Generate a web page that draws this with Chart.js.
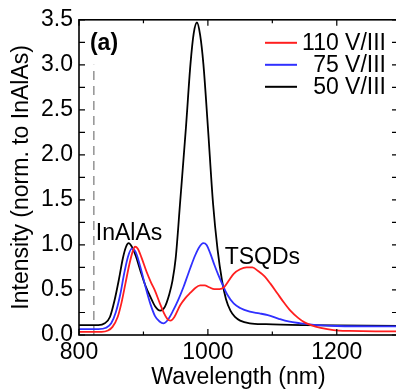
<!DOCTYPE html>
<html>
<head>
<meta charset="utf-8">
<script src="https://cdn.jsdelivr.net/npm/chart.js@4.4.1/dist/chart.umd.min.js"></script>
<style>
  html, body { margin: 0; padding: 0; overflow: hidden; background: #fff; }
  canvas { display: block; }
</style>
</head>
<body>
<canvas id="spec" width="400" height="389"></canvas>
<script>
// series names / colours
const seriesNames = ["110 V/III", "75 V/III", "50 V/III"];
const seriesColors = ["#ff1f1f", "#3030ff", "#000000"];

// 110 V/III (red)
const wl110 = [800, 835, 845, 852, 860, 866, 872, 878, 883, 887, 891, 897, 905, 912, 918, 925, 932, 937, 942, 948, 957, 965, 973, 980, 988, 995, 1002, 1010, 1018, 1025, 1032, 1040, 1050, 1060, 1069, 1078, 1088, 1097, 1108, 1118, 1128, 1140, 1150, 1160, 1175, 1195, 1220, 1260, 1295];
const int110 = [0.035, 0.035, 0.05, 0.09, 0.2, 0.36, 0.57, 0.78, 0.92, 0.98, 0.96, 0.86, 0.7, 0.58, 0.49, 0.36, 0.24, 0.18, 0.16, 0.2, 0.33, 0.41, 0.47, 0.52, 0.55, 0.55, 0.53, 0.51, 0.51, 0.53, 0.6, 0.68, 0.73, 0.75, 0.75, 0.71, 0.65, 0.57, 0.46, 0.36, 0.27, 0.19, 0.14, 0.11, 0.08, 0.055, 0.045, 0.04, 0.04];

// 75 V/III (blue)
const wl75 = [800, 830, 842, 850, 857, 864, 870, 876, 882, 888, 895, 903, 911, 918, 925, 931, 938, 946, 954, 962, 968, 973, 980, 986, 993, 998, 1004, 1010, 1016, 1022, 1030, 1040, 1050, 1065, 1080, 1093, 1110, 1125, 1144, 1170, 1200, 1295];
const int75 = [0.065, 0.065, 0.08, 0.13, 0.25, 0.45, 0.68, 0.87, 0.96, 0.92, 0.76, 0.54, 0.34, 0.21, 0.15, 0.13, 0.17, 0.27, 0.39, 0.53, 0.65, 0.75, 0.88, 0.97, 1.02, 1.0, 0.9, 0.78, 0.67, 0.57, 0.45, 0.35, 0.3, 0.26, 0.24, 0.22, 0.18, 0.15, 0.13, 0.11, 0.1, 0.095];

// 50 V/III (black)
const wl50 = [800, 830, 840, 848, 855, 862, 868, 873, 877, 882, 888, 895, 903, 911, 918, 926, 933, 940, 945, 950, 957, 966, 973, 978, 983, 988, 993, 1000, 1008, 1015, 1022, 1028, 1035, 1042, 1050, 1065, 1090, 1150, 1295];
const int50 = [0.11, 0.11, 0.13, 0.2, 0.38, 0.62, 0.85, 0.98, 1.02, 0.98, 0.88, 0.72, 0.55, 0.42, 0.32, 0.27, 0.31, 0.45, 0.6, 0.85, 1.48, 2.31, 3.01, 3.35, 3.47, 3.33, 3.01, 2.31, 1.46, 0.95, 0.6, 0.4, 0.27, 0.2, 0.16, 0.13, 0.12, 0.11, 0.1];

// dashed reference line
const markWl = [823, 823];
const markInt = [0, 3.0];

// axis ticks
const xTickVals = [800, 1000, 1200];
const xMinorVals = [900, 1100];
const yTickVals = [0, 0.5, 1.0, 1.5, 2.0, 2.5, 3.0, 3.5];
const yMinorVals = [0.25, 0.75, 1.25, 1.75, 2.25, 2.75, 3.25];

// text labels inside the plot (data coords)
const noteText = ["(a)", "InAlAs", "TSQDs"];
const noteWl = [817, 826, 1026];
const noteInt = [3.17, 1.06, 0.79];

const FONT = "'Liberation Sans', Arial, sans-serif";

function toPts(xs, ys) { return xs.map((v, i) => ({ x: v, y: ys[i] })); }

const frame = {
  id: 'frame',
  afterDatasetsDraw(chart) {
    const { ctx, chartArea: a, scales: { x, y } } = chart;
    ctx.save();
    ctx.strokeStyle = '#000';
    ctx.lineWidth = 1.2;
    ctx.beginPath();
    const tickX = (vals, len) => vals.forEach(v => {
      const p = x.getPixelForValue(v);
      ctx.moveTo(p, a.bottom); ctx.lineTo(p, a.bottom - len);
      ctx.moveTo(p, a.top); ctx.lineTo(p, a.top + len);
    });
    const tickY = (vals, len) => vals.forEach(v => {
      const p = y.getPixelForValue(v);
      ctx.moveTo(a.left, p); ctx.lineTo(a.left + len, p);
      ctx.moveTo(a.right, p); ctx.lineTo(a.right - len, p);
    });
    tickX(xTickVals, 6); tickX(xMinorVals, 3.5);
    tickY(yTickVals, 6); tickY(yMinorVals, 6);
    ctx.stroke();
    ctx.lineWidth = 1.6;
    ctx.strokeRect(a.left, a.top, a.right - a.left, a.bottom - a.top);

    // notes
    ctx.fillStyle = '#000';
    ctx.textBaseline = 'alphabetic';
    ctx.textAlign = 'left';
    noteText.forEach((t, i) => {
      ctx.font = (i === 0 ? 'bold ' : '') + '23px ' + FONT;
      ctx.fillText(t, x.getPixelForValue(noteWl[i]), y.getPixelForValue(noteInt[i]));
    });

    // legend
    ctx.font = '23px ' + FONT;
    ctx.textAlign = 'right';
    ctx.textBaseline = 'middle';
    seriesNames.forEach((n, i) => {
      const ly = a.top + 23 + i * 22;
      ctx.strokeStyle = seriesColors[i];
      ctx.lineWidth = 2;
      ctx.beginPath();
      ctx.moveTo(265, ly); ctx.lineTo(297, ly);
      ctx.stroke();
      ctx.fillText(n, a.right - 12, ly + 1);
    });
    ctx.restore();
  }
};

const datasets = seriesNames.map((n, i) => {
  const xs = [wl110, wl75, wl50][i];
  const ys = [int110, int75, int50][i];
  return {
    label: n,
    data: toPts(xs, ys),
    borderColor: seriesColors[i],
    borderWidth: 1.8,
    pointRadius: 0,
    cubicInterpolationMode: 'monotone',
    fill: false
  };
});
datasets.push({
  label: 'mark',
  data: toPts(markWl, markInt),
  borderColor: '#9a9a9a',
  borderWidth: 1.6,
  borderDash: [9, 6],
  pointRadius: 0
});

new Chart(document.getElementById('spec'), {
  type: 'line',
  data: { datasets: datasets },
  options: {
    responsive: false,
    animation: false,
    layout: { padding: { top: 15, right: 2, left: 0, bottom: 0 } },
    plugins: { legend: { display: false }, tooltip: { enabled: false } },
    scales: {
      x: {
        type: 'linear',
        min: 800, max: 1295,
        grid: { display: false, drawTicks: false },
        border: { display: false },
        afterBuildTicks: s => { s.ticks = xTickVals.map(v => ({ value: v })); },
        afterFit: s => { s.height = 54; },
        ticks: { color: '#000', font: { size: 23, family: FONT }, padding: 4, maxRotation: 0, autoSkip: false, callback: v => String(v) },
        title: { display: true, text: 'Wavelength (nm)', color: '#000', font: { size: 23, family: FONT, lineHeight: 1 }, padding: 0 }
      },
      y: {
        min: 0, max: 3.5,
        grid: { display: false, drawTicks: false },
        border: { display: false },
        afterBuildTicks: s => { s.ticks = yTickVals.map(v => ({ value: v })); },
        afterFit: s => { s.width = 79; },
        ticks: { color: '#000', font: { size: 23, family: FONT }, padding: 6, autoSkip: false, callback: v => Number(v).toFixed(1) },
        title: { display: true, text: 'Intensity (norm. to InAlAs)', color: '#000', font: { size: 23, family: FONT, lineHeight: 1 }, padding: { top: 10, bottom: 0 } }
      }
    }
  },
  plugins: [frame]
});
</script>
</body>
</html>
